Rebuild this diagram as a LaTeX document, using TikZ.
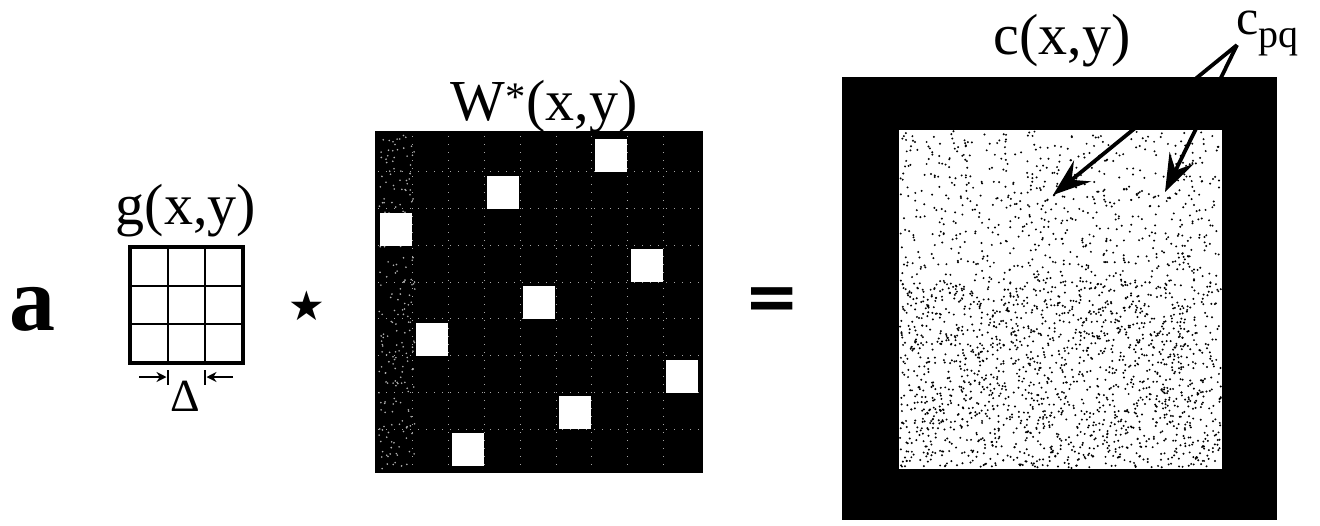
\documentclass[tikz,border=0pt]{standalone}
\usepackage{fontspec}
\setmainfont{Liberation Serif}
\newfontfamily\symfont{DejaVu Sans}
\usetikzlibrary{arrows.meta}

\tikzset{
  lbl/.style={font=\fontsize{58}{60}\selectfont, anchor=base, inner sep=0pt},
  ptr/.style={line width=3.8pt, -{Stealth[length=38pt, width=27pt, inset=14pt]}},
  gap/.style={line width=1.8pt, -{Stealth[length=10pt, width=10pt]}},
  tick/.style={line width=2pt},
}

\begin{document}
\begin{tikzpicture}[x=1pt, y=-1pt]
  \useasboundingbox (0,0) rectangle (1320,525);
  % labels
  \node[lbl, anchor=base west, font=\fontsize{92}{92}\bfseries\selectfont] (a) at (9,330) {a};
  \node[lbl] (gl) at (186,224) {g(x,y)};
  \node[lbl] (wl) at (544,120) {W\textsuperscript{*}(x,y)};
  \node[lbl] (cl) at (1062,54) {c(x,y)};
  \node[lbl, anchor=base west] (cpq) at (1236,34)
    {{\fontsize{50}{50}\selectfont c}\raisebox{-13pt}{\fontsize{40}{40}\selectfont pq}};
  \node[font=\fontsize{41}{41}\symfont] (st) at (307,306) {★};
  \node[font=\fontsize{66}{66}\symfont\bfseries] (eq) at (772,304) {=};
  \node[font=\fontsize{46}{46}\selectfont] (dl) at (185,396) {Δ};

  % g(x,y): 3x3 kernel
  \foreach \i in {1,2} {
    \draw[tick] ({130+37.67*\i},247) -- ({130+37.67*\i},363);
    \draw[tick] (130,{247+38.67*\i}) -- (243,{247+38.67*\i});
  }
  \draw[line width=4.5pt] (130,247) rectangle (243,363);

  % Delta marks
  \coordinate (b1) at (167.7,370); \coordinate (b2) at (167.7,385);
  \coordinate (b3) at (205.3,370); \coordinate (b4) at (205.3,385);
  \coordinate (d1) at (139,377); \coordinate (d2) at (166.5,377);
  \coordinate (d3) at (233,377); \coordinate (d4) at (206.5,377);
  \draw[tick] (b1) -- (b2);
  \draw[tick] (b3) -- (b4);
  \draw[gap] (d1) -- (d2);
  \draw[gap] (d3) -- (d4);

  % W*(x,y)
  \fill (375,131) rectangle (703,473);
  \foreach \i in {1,...,8} {
    \draw[gray!70, line width=1pt, dash pattern=on 1pt off 7pt] ({377+35.8*\i},136) -- ({377+35.8*\i},470);
    \draw[gray!70, line width=1pt, dash pattern=on 1pt off 7pt] (378,{135+36.75*\i}) -- (700,{135+36.75*\i});
  }
  \pgfmathsetseed{5}
  \foreach \i in {1,...,220}
    \fill[gray!60] ({379+36*rnd},{135+334*rnd}) circle (0.9pt);
  \foreach \c [count=\r from 0] in {6,3,0,7,4,1,8,5,2}
    \fill[white] ({380+35.8*\c},{139+36.75*\r}) rectangle +(32,33);

  % c(x,y)
  \fill (842,77) rectangle (1277,520);
  \fill[white] (899,130) rectangle (1222,469);
  \pgfmathsetseed{11}
  \foreach \i in {1,...,1500}
    \fill ({900+321*rnd},{131+337*rnd}) circle (1.1pt);
  \foreach \i in {1,...,1000}
    \fill ({900+321*rnd},{280+188*rnd}) circle (1.1pt);

  % c_pq pointers
  \coordinate (apex) at (1237,45);
  \coordinate (p1) at (1053,195);
  \coordinate (p2) at (1165,192);
  \draw[ptr] (apex) -- (p1);
  \draw[ptr] (apex) -- (p2);
\end{tikzpicture}
\end{document}
